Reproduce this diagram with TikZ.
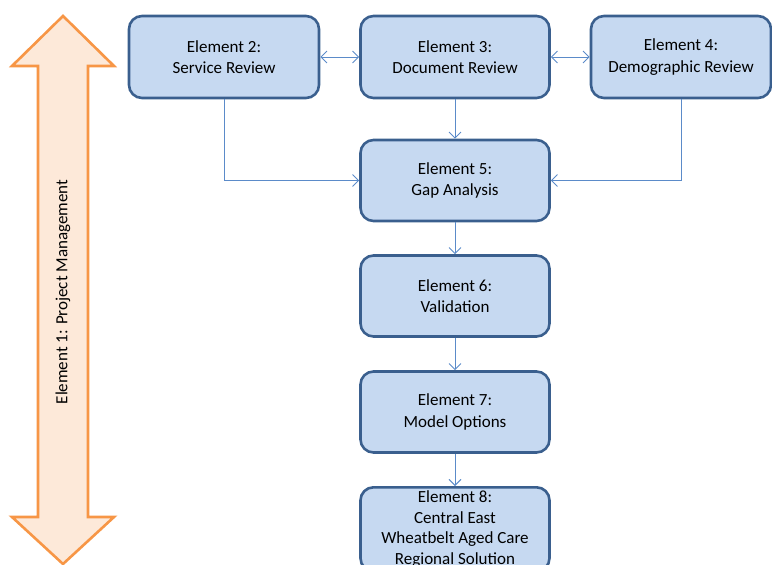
\documentclass[tikz,border=0pt]{standalone}
\usepackage{fontspec}
\setmainfont{Carlito}
\usetikzlibrary{arrows.meta}
\definecolor{boxfill}{HTML}{C6D9F1}
\definecolor{boxline}{HTML}{3A5F8E}
\definecolor{linkblue}{HTML}{5B8BC9}
\definecolor{pmfill}{HTML}{FDE9D9}
\definecolor{pmline}{HTML}{F79646}
\tikzset{
  element/.style={draw=boxline, line width=2.6pt, fill=boxfill, rounded corners=13pt,
    align=center, font=\fontsize{17}{21.5}\selectfont, inner sep=0pt},
  link/.style={draw=linkblue, line width=0.9pt, -{Straight Barb[length=6pt,width=12pt,line width=0.9pt]}},
  duplex/.style={link, {Straight Barb[length=6pt,width=12pt,line width=0.9pt]}-{Straight Barb[length=6pt,width=12pt,line width=0.9pt]}}
}
\begin{document}
\begin{tikzpicture}[x=1pt,y=-1pt]
\useasboundingbox (0,0) rectangle (772,565);
% project management double arrow
\draw[pmline, fill=pmfill, line width=2.6pt, line join=miter]
  (63,16) -- (114,66) -- (88,66) -- (88,517) -- (114,517) -- (63,564)
  -- (12,517) -- (38,517) -- (38,66) -- (12,66) -- cycle;
\node[rotate=90, font=\fontsize{17}{20}\selectfont] (pm) at (63,292) {Element 1: Project Management};
% element boxes
\node[element, minimum width=190pt, minimum height=82pt] (e2) at (224,57) {Element 2:\\Service Review};
\node[element, minimum width=189pt, minimum height=82pt] (e3) at (455,57) {Element 3:\\Document Review};
\node[element, minimum width=180pt, minimum height=82pt] (e4) at (681,57) {Element 4:\\Demographic Review};
\node[element, minimum width=189pt, minimum height=81pt] (e5) at (455,180.5) {Element 5:\\Gap Analysis};
\node[element, minimum width=189pt, minimum height=81pt] (e6) at (455,296) {Element 6:\\Validation};
\node[element, minimum width=189pt, minimum height=81pt] (e7) at (455,412) {Element 7:\\Model Options};
\node[element, minimum width=189pt, minimum height=84pt, anchor=north,
  font=\fontsize{17}{20.5}\selectfont] (e8) at (455,486)
  {Element 8:\\Central East\\Wheatbelt Aged Care\\Regional Solution};
% connectors
\draw[duplex] (e2.east) -- (e3.west);
\draw[duplex] (e3.east) -- (e4.west);
\draw[link] (e3.south) -- (e5.north);
\draw[link] (e2.south) |- (e5.west);
\draw[link] (e4.south) |- (e5.east);
\draw[link] (e5.south) -- (e6.north);
\draw[link] (e6.south) -- (e7.north);
\draw[link] (e7.south) -- (e8.north);
\end{tikzpicture}
\end{document}
